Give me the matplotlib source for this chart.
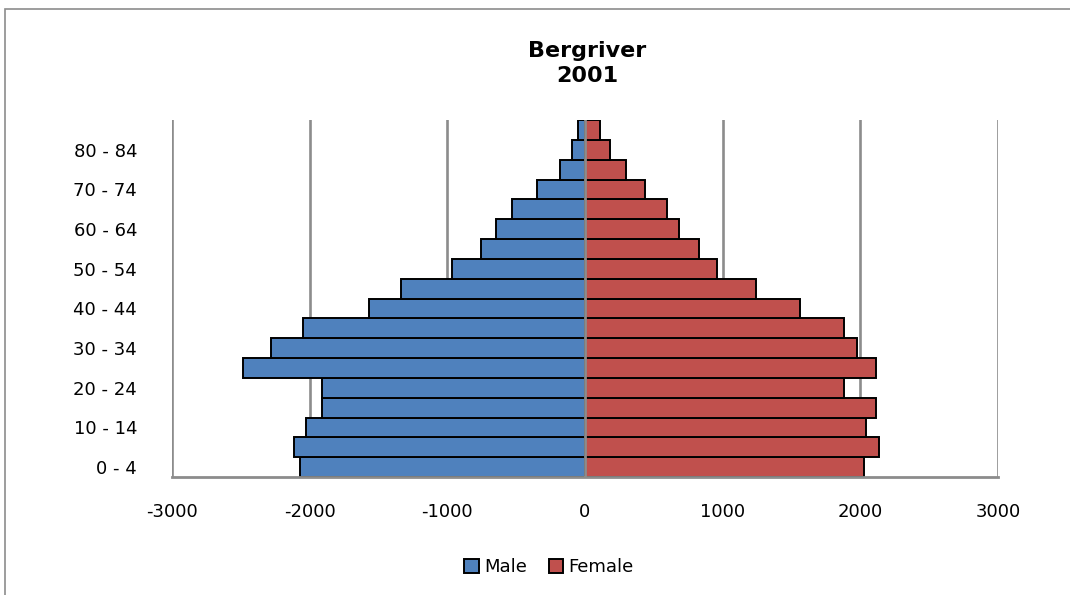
import matplotlib.pyplot as plt
from matplotlib.patches import Rectangle

# age groups, bottom to top
age_groups = ['0 - 4', '5 - 9', '10 - 14', '15 - 19', '20 - 24', '25 - 29',
              '30 - 34', '35 - 39', '40 - 44', '45 - 49', '50 - 54', '55 - 59',
              '60 - 64', '65 - 69', '70 - 74', '75 - 79', '80 - 84', '85+']
male = [-2072, -2116, -2029, -1908, -1908, -2486, -2278, -2046, -1566,
        -1334, -968, -757, -644, -530, -346, -184, -92, -50]
female = [2024, 2135, 2043, 2111, 1879, 2111, 1973, 1879, 1561,
          1240, 961, 826, 685, 593, 434, 296, 179, 109]
x_ticks = [-3000, -2000, -1000, 0, 1000, 2000, 3000]

fig = plt.figure(figsize=(10.7, 5.95), dpi=100)
ax = fig.add_axes([0.1607, 0.1983, 0.7720, 0.6000])

# outer chart border (partly cut off by the image edge)
fig.patches.append(Rectangle((5 / 1070, -0.1), 1.2, 1 - 9 / 595 + 0.1,
                             transform=fig.transFigure, fill=False,
                             edgecolor='#8c8c8c', linewidth=1.2))

pos = range(len(age_groups))
ax.barh(pos, male, height=1.0, color='#4F81BD', edgecolor='black',
        linewidth=1.4, label='Male', zorder=2)
ax.barh(pos, female, height=1.0, color='#C0504D', edgecolor='black',
        linewidth=1.4, label='Female', zorder=2)

# vertical gridlines
for t in x_ticks:
    if t != 0:
        ax.axvline(t, color='#8c8c8c', linewidth=1.9, zorder=1)
# category axis at zero, drawn over the bars
ax.axvline(0, color='#8c8c8c', linewidth=2.0, zorder=3)

ax.set_xlim(-3000, 3000)
ax.set_ylim(-0.5, len(age_groups) - 0.5)
ax.set_xticks(x_ticks)
ax.set_xticklabels([str(t) for t in x_ticks], fontsize=13)
ax.set_yticks(list(pos)[::2])
ax.set_yticklabels(age_groups[::2], fontsize=13)
ax.tick_params(axis='x', length=0, pad=19)
ax.tick_params(axis='y', length=0, pad=25)

for s in ['top', 'right', 'left']:
    ax.spines[s].set_visible(False)
ax.spines['bottom'].set_color('#8c8c8c')
ax.spines['bottom'].set_linewidth(2.0)

fig.text(0.549, 0.893, 'Bergriver\n2001', ha='center', va='center',
         fontsize=16, fontweight='bold', linespacing=1.35)

fig.legend(loc='center', bbox_to_anchor=(0.513, 0.047), ncol=2,
           frameon=False, fontsize=13, handlelength=0.8, handleheight=0.8,
           handletextpad=0.3, columnspacing=1.2)

fig.savefig('out.png', dpi=100)
